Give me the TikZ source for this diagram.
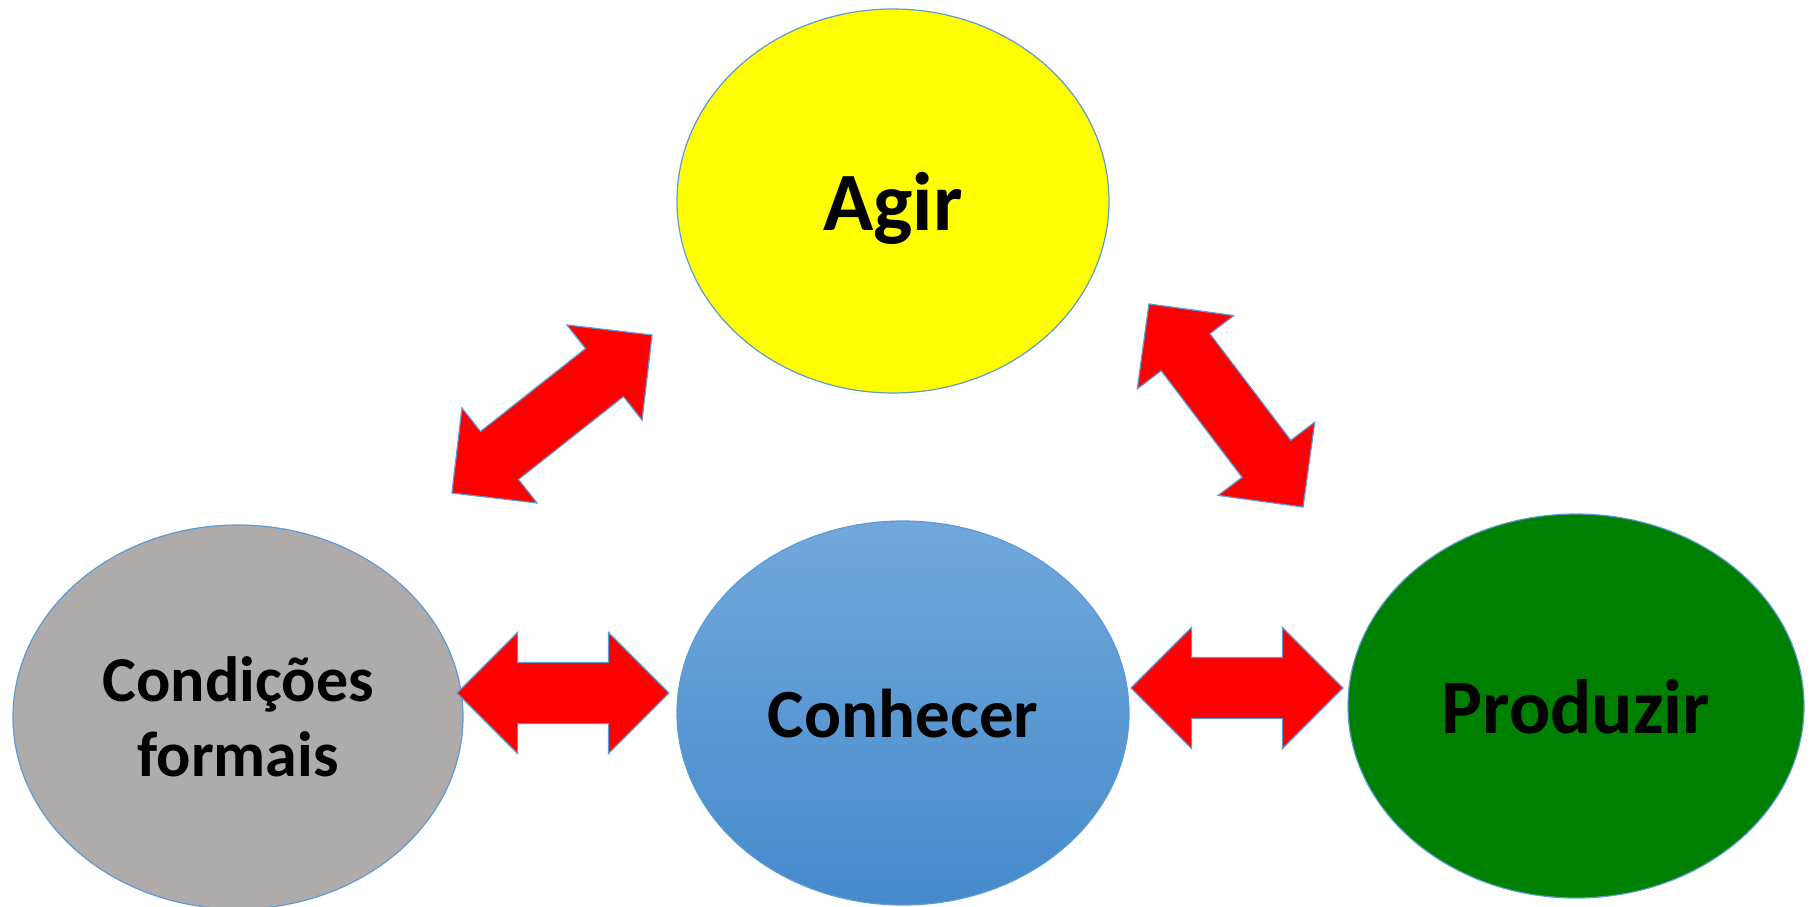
\documentclass[tikz,border=0pt]{standalone}
\usepackage{fontspec}
\setmainfont{Carlito}
\usetikzlibrary{shapes.geometric,shapes.arrows}

\definecolor{rimblue}{RGB}{91,155,213}
\definecolor{amarelo}{RGB}{255,255,0}
\definecolor{cinza}{RGB}{175,171,171}
\definecolor{verde}{RGB}{0,128,0}
\definecolor{azultop}{RGB}{113,168,219}
\definecolor{azulbot}{RGB}{70,138,203}

\tikzset{
  bubble/.style={ellipse, draw=rimblue, line width=1.2pt, inner sep=0pt,
    minimum height=384pt, text depth=0pt},
  link/.style={double arrow, draw=rimblue, fill=red, line width=1.2pt,
    inner xsep=0pt, inner ysep=30pt, minimum width=120pt,
    double arrow head extend=30pt}
}

\begin{document}
\begin{tikzpicture}[x=1pt,y=-1pt]
        \useasboundingbox (0,0) rectangle (1810,906);

        % the four circles
        \node[bubble, fill=amarelo, minimum width=432pt,
          font=\bfseries\fontsize{83}{95}\selectfont] (agir) at (893,201) {Agir};
        \node[bubble, fill=cinza, minimum width=450pt, align=center,
          font=\bfseries\fontsize{64}{75}\selectfont] (cond) at (238,717) {Condições\\formais};
        \node[bubble, top color=azultop, bottom color=azulbot, minimum width=452pt,
          font=\bfseries\fontsize{69}{80}\selectfont] (conh) at (903,713) {Conhecer};
        \node[bubble, fill=verde, minimum width=456pt,
          font=\bfseries\fontsize{77}{88}\selectfont] (prod) at (1576,706) {Produzir};

        % arrows
        \node[link, minimum height=212pt] (condconh) at (563,693) {};
        \node[link, minimum height=212pt] (conhprod) at (1237,688) {};
        \node[link, minimum height=255pt, rotate=38.3] (condagir) at (552,414) {};
        \node[link, minimum height=255pt, rotate=-52.8] (agirprod) at (1226,405.5) {};

      \end{tikzpicture}
\end{document}
